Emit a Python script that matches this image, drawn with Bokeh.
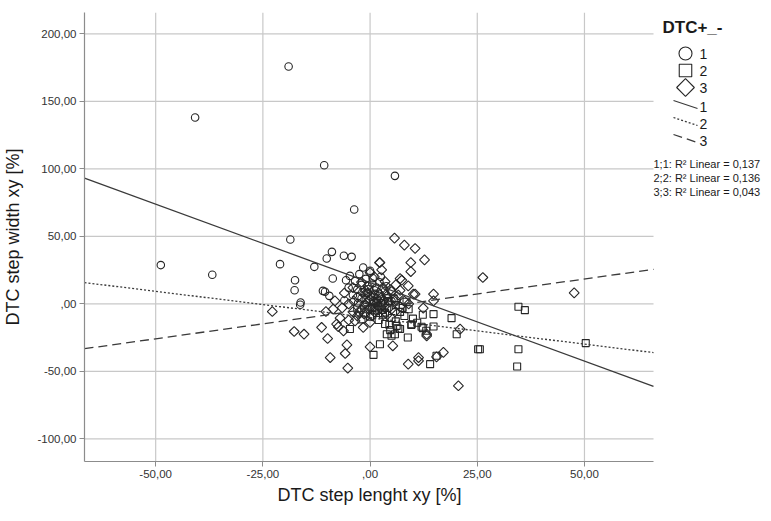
import numpy as np
from bokeh.plotting import figure
from bokeh.models import Label, Range1d, FixedTicker, Title
from bokeh.embed import file_html
from bokeh.resources import INLINE

# ---------------- data ----------------
# group 1 (circles)
g1_x = [-19.0, -40.8, -10.7, 5.8, -3.7, -18.6, -48.8, -36.8, -21.0, -13.0,
        -8.9, -10.1, -6.1, -4.3, -8.7, -5.6, -4.7, -17.5, -17.6, -11.0,
        -10.5, -9.5, -16.2, -16.3, -1.6,
        -2.5, -1.0, 0.5, 1.5, -3.0, -0.5, 2.0, -2.0, 0.8, 3.0,
        -1.5, 1.0, 4.0, -4.0, -6.0, 2.5, 0.0, -2.0, 3.5, 5.0,
        -3.5, -5.0, 1.0, -1.0, 0.2, 2.2, -0.8, 1.8,
        -2.8, -0.3, 1.2, 3.8, -1.8, 0.6]
g1_y = [175.8, 138.0, 102.7, 94.8, 69.9, 47.6, 28.7, 21.5, 29.4, 27.4,
        38.5, 33.6, 35.6, 34.8, 18.8, 17.5, 20.7, 17.5, 10.1, 9.6,
        8.9, 5.9, 1.0, -0.7, 26.9,
        22.0, 18.5, 15.0, 12.0, 10.5, 8.0, 6.0, 4.0, 2.0, 0.5,
        -1.0, -3.0, 4.0, 6.5, 2.5, 20.0, 24.5, 14.0, 9.5, 2.0,
        17.0, 12.0, 10.0, 3.0, 5.0, 16.0, 1.0, -1.5,
        0.5, 11.0, 7.5, 13.0, 8.5, 19.0]

# group 2 (squares)
g2_x = [0.8, 2.3, 3.9, 6.6, 8.8, 9.6, 12.0, 14.8, 14.8, 19.0,
        20.2, 15.5, 5.8, 4.7, -4.7, 25.2, 34.6, 36.1, 25.6, 34.6,
        34.3, 12.3, 9.7, 12.3, 13.1, 14.0, 7.0, 50.3, 5.0, 6.2,
        3.5,
        1.0, 3.0, 5.0, 2.0, 7.0, 4.0, 8.0, 0.0, 6.0, 10.0,
        -1.0, 2.5, 9.0, 11.0, -2.0, 6.0, 3.5, 1.5, 5.5, -3.0,
        8.5, 4.5, 0.5, 2.8, 1.8, 4.2, 7.6, -0.4]
g2_y = [-37.8, -29.9, -22.5, -18.3, -25.0, -15.6, -17.0, -7.6, -16.8, -10.6,
        -22.5, -38.5, -22.5, -19.5, -18.7, -33.6, -2.2, -4.7, -33.6, -33.6,
        -46.4, -8.1, -15.1, -18.0, -20.0, -44.7, -18.7, -29.1, -23.7, -16.3,
        -15.0,
        -5.0, -8.0, -10.5, -12.0, -6.0, -3.0, -9.0, -9.5, -13.0, -11.0,
        -7.0, -2.0, -4.0, -14.0, -11.5, -1.0, -6.5, 1.0, 4.0, -3.5,
        1.5, -15.5, -2.5, -4.5, -0.5, 2.0, -3.0, -4.0]

# group 3 (diamonds)
g3_x = [5.7, 2.2, 8.0, 10.5, 12.7, 9.5, 9.5, 2.3, 14.8, 14.8,
        -17.7, -15.4, -11.3, -9.9, -5.4, -5.8, -9.3, 0.0, 5.3, 11.3,
        13.2, 17.1, 21.0, 7.4, 8.9, 10.1, 12.4, 26.3, 20.6, 15.5,
        11.3, 8.9, 13.2, 47.6, -22.8, -10.3, -8.6, -7.4, -7.0, -8.2,
        -5.2, 2.7, 0.0, 7.0, 10.5, -7.8, -6.2, -3.5, -1.6, 0.0,
        -3.0, -5.0, -2.0, 0.0, 2.0, 4.0, 6.0, -1.0, 1.0, 3.0,
        5.0, -4.0, -6.0, 7.0, -2.0, 4.0, 8.0, -3.0, 1.0, 6.0,
        -1.0, 3.0, 9.0, -5.0, 2.0, 0.0, 5.0, -4.0, 7.0, 1.0,
        -2.5, 4.5, 0.5, -0.5, 3.5, -6.5, 1.5, -1.2, 3.2, 5.8,
        -3.8, 2.6, 0.8, -1.4, 4.8, 6.6, 1.9, -0.6]
g3_y = [48.7, 30.6, 43.5, 41.0, 32.6, 30.6, 23.9, 30.6, 7.2, 2.2,
        -20.5, -22.5, -17.5, -25.7, -30.4, -36.8, -39.8, -31.9, -31.1, -39.8,
        -22.5, -36.0, -18.7, 17.5, 13.3, 7.2, -3.2, 19.5, -60.7, -39.3,
        -42.2, -44.7, -23.7, 8.1, -5.7, -5.7, -3.9, -17.0, -10.6, 2.2,
        -47.6, 25.2, 23.2, 18.7, 7.2, -15.0, -20.0, -12.6, -17.5, -13.8,
        5.0, 0.0, -4.0, 3.0, -2.0, 6.0, 3.0, 10.0, -6.0, 12.0,
        -4.0, -6.0, 8.0, 10.0, 16.0, -8.0, 2.0, -9.0, 20.0, 14.0,
        -1.0, -1.0, 0.0, -12.0, 8.0, -3.0, 9.0, 12.0, -2.0, 1.0,
        -6.5, 1.5, -9.0, 13.0, 16.5, -3.0, 4.0, 7.0, 2.5, -6.0,
        2.0, 4.5, 5.5, -7.5, 10.5, 6.5, -4.5, 8.0]

# linear fits per group
fit_groups = ["1", "2", "3"]
fit_intercept = [15.7, -10.3, -3.75]
fit_slope = [-1.163, -0.391, 0.443]
fit_r2 = ["0,137", "0,136", "0,043"]

x_ticks = [-50, -25, 0, 25, 50]
x_tick_labels = ["-50,00", "-25,00", ",00", "25,00", "50,00"]
y_ticks = [-100, -50, 0, 50, 100, 150, 200]
y_tick_labels = ["-100,00", "-50,00", ",00", "50,00", "100,00", "150,00", "200,00"]

X_MIN, X_MAX = -66.6, 66.1
Y_MIN, Y_MAX = -116.8, 215.8

# ---------------- layout ----------------
W, H = 763, 513
LEFT, TOP, BOTTOM = 84, 12, 52
DATA_W = 569                      # pixel width of the data area
FRAME_W = W - LEFT                # frame runs to the right edge (legend lives there)
FRAME_H = H - TOP - BOTTOM
X_VIEW_MAX = X_MIN + (X_MAX - X_MIN) * FRAME_W / DATA_W
PX_X = DATA_W / (X_MAX - X_MIN)
PX_Y = FRAME_H / (Y_MAX - Y_MIN)


def sx(px):   # screen column -> data x (for legend placement)
    return X_MIN + (px - LEFT) / PX_X


def sy(py):   # screen row -> data y (for legend placement)
    return Y_MAX - (py - TOP) / PX_Y


FONT = "Liberation Sans"
INK = "#1a1a1a"
p = figure(width=W, height=H,
           x_range=Range1d(X_MIN, X_VIEW_MAX), y_range=Range1d(Y_MIN, Y_MAX),
           output_backend="svg", toolbar_location=None,
           min_border_left=LEFT, min_border_right=0,
           min_border_top=TOP, min_border_bottom=BOTTOM)
p.outline_line_color = None
p.background_fill_color = "white"
p.border_fill_color = "white"
p.xgrid.visible = False
p.ygrid.visible = False

p.xaxis.ticker = FixedTicker(ticks=x_ticks)
p.yaxis.ticker = FixedTicker(ticks=y_ticks)
p.xaxis.major_label_overrides = dict(zip(x_ticks, x_tick_labels))
p.yaxis.major_label_overrides = dict(zip(y_ticks, y_tick_labels))
p.xaxis.bounds = (X_MIN, X_MAX)
p.yaxis.axis_label = "DTC step width xy [%]"

for ax in (p.xaxis[0], p.yaxis[0]):
    ax.axis_line_color = "#8c8c8c"
    ax.axis_line_width = 1.2
    ax.major_tick_line_color = "#8c8c8c"
    ax.major_tick_in = 0
    ax.major_tick_out = 5
    ax.minor_tick_line_color = None
    ax.major_label_text_font = FONT
    ax.major_label_text_font_size = "11.5px"
    ax.major_label_text_color = "#333333"
    ax.major_label_standoff = 3
    ax.axis_label_text_font = FONT
    ax.axis_label_text_font_size = "18px"
    ax.axis_label_text_font_style = "normal"
    ax.axis_label_text_color = INK
p.yaxis.axis_label_standoff = 11

# x-axis title, centred under the data area
p.add_layout(Title(text="DTC step lenght xy [%]", align="left", offset=193,
                   text_font=FONT, text_font_size="18px", text_font_style="normal",
                   text_color=INK, standoff=4), "below")

# grid lines (only across the data area)
GRID = "#c8c8c8"
p.segment(x0=x_ticks, y0=[Y_MIN] * len(x_ticks), x1=x_ticks, y1=[Y_MAX] * len(x_ticks),
          line_color=GRID, line_width=1.2)
p.segment(x0=[X_MIN] * len(y_ticks), y0=y_ticks, x1=[X_MAX] * len(y_ticks), y1=y_ticks,
          line_color=GRID, line_width=1.2)

MARK = "#262626"
p.scatter(g1_x, g1_y, marker="circle", size=7.5, fill_color=None,
          line_color=MARK, line_width=1.1)
p.scatter(g2_x, g2_y, marker="square", size=7, fill_color=None,
          line_color=MARK, line_width=1.1)
p.scatter(g3_x, g3_y, marker="square", angle=np.pi / 4, size=7,
          fill_color=None, line_color=MARK, line_width=1.1)

LINE = "#3a3a3a"
line_x = np.array([X_MIN, X_MAX])
dashes = ["solid", "2 2", "9 5"]
for b0, b1, d in zip(fit_intercept, fit_slope, dashes):
    p.line(line_x, b0 + b1 * line_x, line_color=LINE, line_width=1.3, line_dash=d)

# ---------------- legend (drawn in the free area right of the data) ----------------
def text_label(px, py, text, size, style="normal"):
    p.add_layout(Label(x=px - LEFT, y=(H - BOTTOM) - py, x_units="screen", y_units="screen",
                       text=text, text_font=FONT, text_font_size=size,
                       text_font_style=style, text_baseline="middle",
                       text_color=INK))


text_label(662, 27, "DTC+_-", "17px", "bold")

marker_kinds = [("circle", 0.0, 13), ("square", 0.0, 12.5), ("square", np.pi / 4, 12.5)]
for i, (mk, ang, sz) in enumerate(marker_kinds):
    row = 53 + 17 * i
    p.scatter([sx(685)], [sy(row)], marker=mk, angle=ang, size=sz, fill_color=None,
              line_color=MARK, line_width=1.1)
    text_label(699, row, fit_groups[i], "14px")

for i, d in enumerate(dashes):
    row = 104 + 17 * i
    p.segment(x0=[sx(673)], y0=[sy(row - 4)], x1=[sx(697)], y1=[sy(row + 4)],
              line_color=LINE, line_width=1.3, line_dash=d)
    text_label(699, row + 2, fit_groups[i], "14px")

for i, (g, r2v) in enumerate(zip(fit_groups, fit_r2)):
    text_label(653, 163 + 14 * i, f"{g};{g}: R\u00b2 Linear = {r2v}", "11px")

open("out.html", "w").write(file_html(p, INLINE))
